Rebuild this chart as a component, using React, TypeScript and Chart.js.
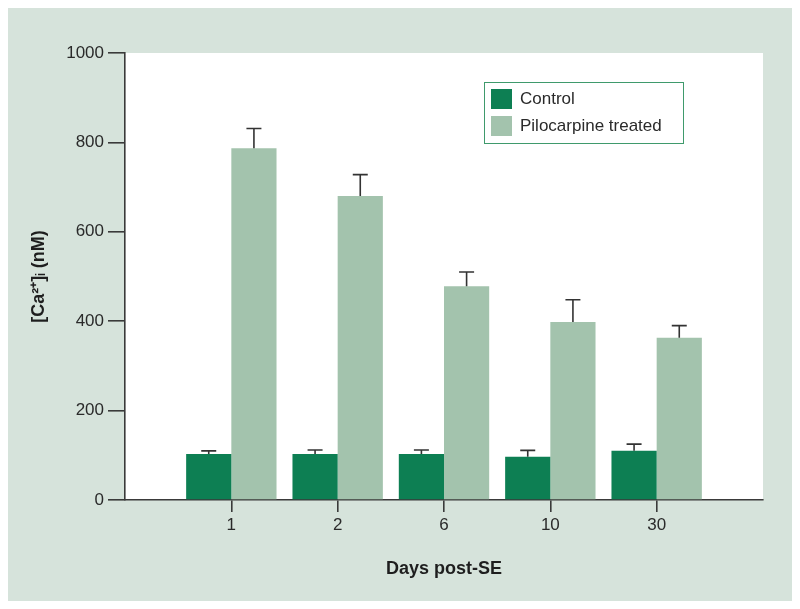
import React, { useEffect, useRef } from 'react';
import { Chart, registerables } from 'chart.js';
Chart.register(...registerables);

const categories = ['', '1', '2', '6', '10', '30', ''];
const controlValues = [null, 103, 103, 103, 97, 110, null];
const controlErrors = [null, 7, 9, 9, 14, 15, null];
const pilocarpineValues = [null, 787, 680, 478, 398, 363, null];
const pilocarpineErrors = [null, 44, 48, 32, 50, 27, null];
const seriesLabels = ['Control', 'Pilocarpine treated'];
const seriesColors = ['#0d7f53', '#a3c3ad'];
const yMin = 0;
const yMax = 1000;
const yStep = 200;

const FONT = "'Liberation Sans', Arial, Helvetica, sans-serif";
const AXIS_COLOR = '#3a3a3a';

const backgroundPlugin = {
  id: 'panelBg',
  beforeDraw(chart: any) {
    const { ctx, chartArea } = chart;
    ctx.save();
    ctx.fillStyle = '#ffffff';
    ctx.fillRect(0, 0, chart.width, chart.height);
    ctx.fillStyle = '#d6e3db';
    ctx.fillRect(8, 8, 784, 593);
    ctx.fillStyle = '#ffffff';
    ctx.fillRect(chartArea.left, chartArea.top, chartArea.right - chartArea.left, chartArea.bottom - chartArea.top);
    ctx.restore();
  },
};

const errorBarPlugin = {
  id: 'errorBars',
  afterDatasetsDraw(chart: any) {
    const { ctx } = chart;
    const yScale = chart.scales.y;
    const errs = [controlErrors, pilocarpineErrors];
    ctx.save();
    ctx.strokeStyle = '#333333';
    ctx.lineWidth = 1.6;
    chart.data.datasets.forEach((ds: any, di: number) => {
      const meta = chart.getDatasetMeta(di);
      meta.data.forEach((el: any, i: number) => {
        const v = ds.data[i];
        const e = errs[di][i];
        if (v == null || e == null) return;
        const top = yScale.getPixelForValue(v + e);
        const x = el.x;
        ctx.beginPath();
        ctx.moveTo(x, el.y);
        ctx.lineTo(x, top);
        ctx.moveTo(x - 7.5, top);
        ctx.lineTo(x + 7.5, top);
        ctx.stroke();
      });
    });
    ctx.restore();
  },
};

const legendPlugin = {
  id: 'boxLegend',
  afterDraw(chart: any) {
    const { ctx, chartArea } = chart;
    const left = chartArea.left + 359;
    const top = chartArea.top + 29;
    const w = 199;
    const h = 61;
    ctx.save();
    ctx.fillStyle = '#ffffff';
    ctx.fillRect(left, top, w, h);
    ctx.strokeStyle = '#3f9a6c';
    ctx.lineWidth = 1;
    ctx.strokeRect(left + 0.5, top + 0.5, w, h);
    ctx.font = `17px ${FONT}`;
    ctx.textBaseline = 'middle';
    ctx.textAlign = 'left';
    chart.data.datasets.forEach((ds: any, i: number) => {
      const sy = top + 7 + i * 27;
      ctx.fillStyle = ds.backgroundColor;
      ctx.fillRect(left + 7, sy, 21, 20);
      ctx.fillStyle = '#2a2a2a';
      ctx.fillText(ds.label, left + 36, sy + 10.5);
    });
    ctx.restore();
  },
};

export default function App() {
  const ref = useRef<HTMLCanvasElement>(null);
  useEffect(() => {
    if (!ref.current) return;
    const chart = new Chart(ref.current, {
      type: 'bar',
      data: {
        labels: categories,
        datasets: [
          { label: seriesLabels[0], data: controlValues as any, backgroundColor: seriesColors[0], borderWidth: 0 },
          { label: seriesLabels[1], data: pilocarpineValues as any, backgroundColor: seriesColors[1], borderWidth: 0 },
        ],
      },
      options: {
        responsive: false,
        animation: false,
        devicePixelRatio: 1,
        layout: { padding: { top: 53, right: 37, left: 0, bottom: 0 } },
        plugins: { legend: { display: false }, tooltip: { enabled: false } },
        datasets: { bar: { barPercentage: 1, categoryPercentage: 0.85 } },
        scales: {
          x: {
            offset: false,
            afterFit: (s: any) => { s.height = 109; },
            grid: {
              offset: false,
              drawOnChartArea: false,
              drawTicks: true,
              tickLength: 12,
              lineWidth: 1.6,
              color: (c: any) => (c.index === 0 || c.index === categories.length - 1 ? 'rgba(0,0,0,0)' : AXIS_COLOR),
            },
            border: { display: true, color: AXIS_COLOR, width: 1.6 },
            ticks: { color: '#2a2a2a', font: { family: FONT, size: 17 }, padding: 3, maxRotation: 0, autoSkip: false },
            title: {
              display: true,
              text: 'Days post-SE',
              color: '#1e1e1e',
              font: { family: FONT, size: 18, weight: 'bold' },
              padding: { top: 0, bottom: 29 },
            },
          },
          y: {
            min: yMin,
            max: yMax,
            afterFit: (s: any) => { s.width = 125; },
            grid: { drawOnChartArea: false, drawTicks: true, tickLength: 17, lineWidth: 1.6, color: AXIS_COLOR },
            border: { display: true, color: AXIS_COLOR, width: 1.6 },
            ticks: {
              stepSize: yStep,
              color: '#2a2a2a',
              font: { family: FONT, size: 17 },
              padding: 4,
              callback: (v: any) => String(v),
            },
            title: {
              display: true,
              text: '[Ca²⁺]ᵢ (nM)',
              color: '#1e1e1e',
              font: { family: FONT, size: 18, weight: 'bold' },
              padding: { top: 28, bottom: 0 },
            },
          },
        },
      },
      plugins: [backgroundPlugin, errorBarPlugin, legendPlugin],
    });
    return () => chart.destroy();
  }, []);
  return (
    <div style={{ position: 'absolute', left: 0, top: 0, width: 800, height: 609 }}>
      <canvas ref={ref} width={800} height={609} />
    </div>
  );
}
